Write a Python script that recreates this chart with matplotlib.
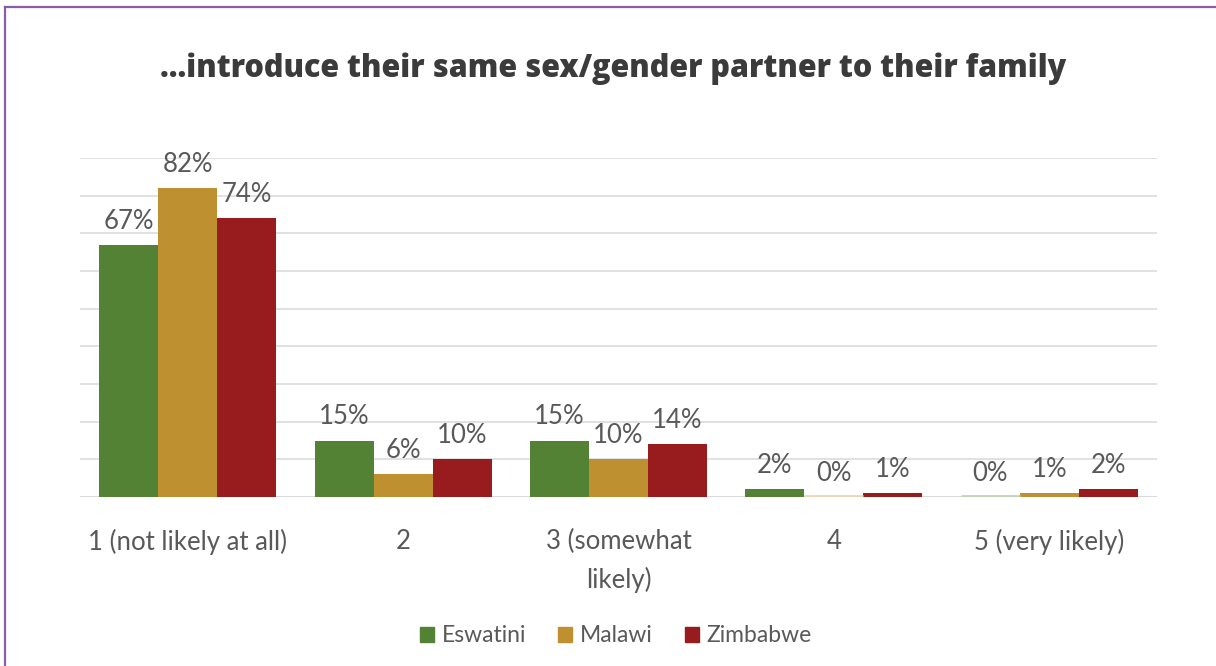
import matplotlib
matplotlib.use("Agg")
import matplotlib.pyplot as plt
from matplotlib.patches import Rectangle
from matplotlib.lines import Line2D
import numpy as np
from matplotlib.colors import to_rgb

categories = ["1 (not likely at all)", "2", "3 (somewhat\nlikely)", "4", "5 (very likely)"]
countries = ["Eswatini", "Malawi", "Zimbabwe"]
eswatini = [67, 15, 15, 2, 0]
malawi = [82, 6, 10, 0, 1]
zimbabwe = [74, 10, 14, 1, 2]
colors = ["#548235", "#bf9030", "#981b1e"]

title = "...introduce their same sex/gender partner to their family"

fig = plt.figure(figsize=(12.16, 6.66), dpi=100)
fig.patch.set_facecolor("white")

# purple frame lines along the top and left edges
fig.add_artist(Line2D([5 / 1216, 1], [1 - 7 / 666, 1 - 7 / 666], transform=fig.transFigure,
                      color="#8b5ca8", lw=1.6))
fig.add_artist(Line2D([5 / 1216, 5 / 1216], [0, 1 - 7 / 666], transform=fig.transFigure,
                      color="#8b5ca8", lw=1.6))

ax = fig.add_axes([80 / 1216, 1 - 497 / 666, (1157 - 80) / 1216, (497 - 158) / 666])
ax.set_xlim(-0.5, len(categories) - 0.5)
ax.set_ylim(0, 90)

for y in range(10, 91, 10):
    ax.axhline(y, color="#d9d9d9", lw=1.1, zorder=0)
ax.axhline(0, color="#d0d0d0", lw=1.1, zorder=0)

x = np.arange(len(categories))
w = 0.274
series = [eswatini, malawi, zimbabwe]
label_font = dict(family=["Lato", "DejaVu Sans"], fontsize=18.5, color="#595959")
tick_font = dict(family=["Lato", "DejaVu Sans"], fontsize=18.5, color="#595959")
for i, (vals, c) in enumerate(zip(series, colors)):
    pos = x + (i - 1) * w
    bars = ax.bar(pos, vals, width=w, color=c, zorder=2, linewidth=0)
    for b, v in zip(bars, vals):
        if v == 0:
            light = tuple(0.35 * np.array(to_rgb(c)) + 0.65)
            ax.plot([b.get_x(), b.get_x() + w], [0.25, 0.25], color=light, lw=2,
                    zorder=3, solid_capstyle="butt")
        ax.annotate(f"{v}%", (b.get_x() + w / 2, v), xytext=(0, 8),
                    textcoords="offset points", ha="center", va="bottom", **label_font)

ax.set_xticks(x)
ax.set_xticklabels(categories, linespacing=1.6, **tick_font)
ax.tick_params(axis="x", length=0, pad=23)
ax.tick_params(axis="y", length=0, labelleft=False)
for s in ax.spines.values():
    s.set_visible(False)

fig.text(613 / 1216, 1 - 69 / 666, title, ha="center", va="center",
         fontsize=22, fontweight="heavy", color="#3b3b3b",
         family=["Open Sans", "DejaVu Sans"])

handles = [Rectangle((0, 0), 1, 1, color=c) for c in colors]
fig.legend(handles, countries, loc="center", bbox_to_anchor=(616 / 1216, 1 - 636 / 666),
           ncol=3, frameon=False, handlelength=0.6, handleheight=0.6, handletextpad=0.35,
           columnspacing=1.4, prop=dict(family=["Lato", "DejaVu Sans"], size=16.5),
           labelcolor="#595959")

fig.savefig("out.png", dpi=100, facecolor="white")
